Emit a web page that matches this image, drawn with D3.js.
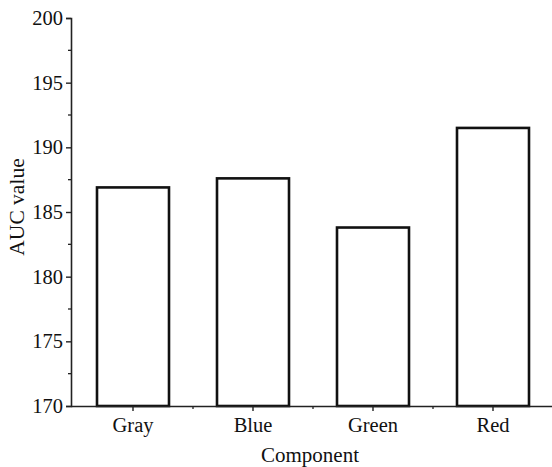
<!DOCTYPE html>
<html><head><meta charset="utf-8">
<script src="https://cdn.jsdelivr.net/npm/d3@7"></script>
<style>
body{margin:0;background:#fff;}
svg{display:block;}
text{font-family:"Liberation Serif","Times New Roman",serif;fill:#111;}
</style></head>
<body><svg id="c" width="552" height="467"></svg>
<script>
const categories = ["Gray","Blue","Green","Red"];
const values = [186.9, 187.6, 183.8, 191.5];
const yTicks = [170,175,180,185,190,195,200];
const yMinorTicks = [172.5,177.5,182.5,187.5,192.5,197.5];
const xLabel = "Component";
const yLabel = "AUC value";

const svg = d3.select("#c");
const x = d3.scaleBand().domain(categories).range([73,553]).paddingInner(0.4).paddingOuter(0.2);
const xOuter = d3.scaleBand().domain(categories).range([73,553]);
const y = d3.scaleLinear().domain([170,200]).range([406,18]);

// bars
svg.append("g").selectAll("rect").data(categories).join("rect")
  .attr("x", d=>x(d)).attr("width", x.bandwidth())
  .attr("y", (d,i)=>y(values[i])).attr("height", (d,i)=>y(170)-y(values[i]))
  .attr("fill","#fff").attr("stroke","#111").attr("stroke-width",2.6);

// y axis
const ya = svg.append("g").attr("transform","translate(71,0)")
  .call(d3.axisLeft(y).tickValues(yTicks).tickFormat(d3.format("d")).tickSize(5).tickPadding(3));
ya.select(".domain").attr("stroke","#222").attr("stroke-width",1.6);
ya.selectAll(".tick line").attr("stroke","#222").attr("stroke-width",1.4);
ya.selectAll("text").style("font-size","20.5px").attr("fill","#111");
svg.append("g").selectAll("line").data(yMinorTicks).join("line")
  .attr("x1",68).attr("x2",71).attr("y1",d=>y(d)).attr("y2",d=>y(d))
  .attr("stroke","#222").attr("stroke-width",1.3);

// x axis
const xa = svg.append("g").attr("transform","translate(0,406)")
  .call(d3.axisBottom(x).tickSize(5).tickPadding(6).tickSizeOuter(0));
xa.select(".domain").attr("stroke","#222").attr("stroke-width",1.6).attr("d","M71,0.5H552");
xa.selectAll(".tick line").attr("stroke","#222").attr("stroke-width",1.4);
xa.selectAll("text").style("font-size","20.5px").attr("fill","#111");
// minor ticks between categories
svg.append("g").selectAll("line").data(categories.slice(1)).join("line")
  .attr("x1",d=>xOuter(d)).attr("x2",d=>xOuter(d)).attr("y1",406).attr("y2",409)
  .attr("stroke","#222").attr("stroke-width",1.3);

// axis labels
svg.append("text").attr("x",310).attr("y",462).attr("text-anchor","middle")
  .style("font-size","21px").text(xLabel);
svg.append("text").attr("transform","translate(24,207) rotate(-90)").attr("text-anchor","middle")
  .style("font-size","21.5px").text(yLabel);
</script></body></html>
